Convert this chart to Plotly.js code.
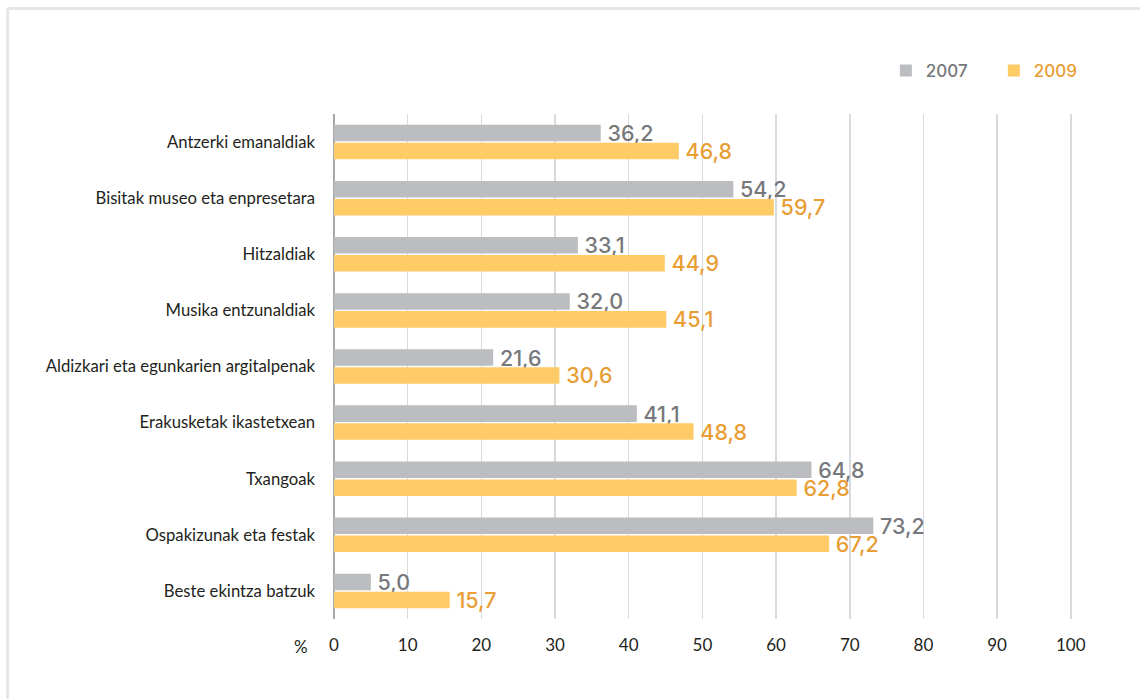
<!DOCTYPE html>
<html>
<head>
<meta charset="utf-8">
<script src="https://cdn.plot.ly/plotly-3.0.1.min.js"></script>
<style>html,body{margin:0;padding:0;background:#fff;}#chart{width:1140px;height:699px;}</style>
</head>
<body>
<div id="chart"></div>
<script>
var categories = [
  "Antzerki emanaldiak",
  "Bisitak museo eta enpresetara",
  "Hitzaldiak",
  "Musika entzunaldiak",
  "Aldizkari eta egunkarien argitalpenak",
  "Erakusketak ikastetxean",
  "Txangoak",
  "Ospakizunak eta festak",
  "Beste ekintza batzuk"
];
var values2007 = [36.2, 54.2, 33.1, 32.0, 21.6, 41.1, 64.8, 73.2, 5.0];
var values2009 = [46.8, 59.7, 44.9, 45.1, 30.6, 48.8, 62.8, 67.2, 15.7];
var seriesNames = ["2007", "2009"];
var tickValues = [0, 10, 20, 30, 40, 50, 60, 70, 80, 90, 100];

var grayBar = "#bcbdc0", grayText = "#77787b";
var yellowBar = "#fecb67", yellowText = "#e89e34";

var xMax = 100.3;
var L = 334, T = 114, B = 80;
var W = 1140, H = 699;
var pw = (1071 - 334) * xMax / 100;
var R = W - L - pw;
var ph = H - T - B;
function px(x){ return (x - L) / pw; }
function py(y){ return (H - B - y) / ph; }

var axisFont = "Lato, Liberation Sans, Arial, sans-serif";
var valueFont = "Inter, Roboto, Liberation Sans, Arial, sans-serif";

var traces = [
  {
    type: "bar", orientation: "h",
    y: categories, x: values2007,
    name: '<span style="color:' + grayText + '">' + seriesNames[0] + '</span>',
    marker: {color: grayBar},
    texttemplate: "\u2009%{x:.1f}", textposition: "outside", constraintext: "none",
    outsidetextfont: {family: valueFont, size: 21.5, weight: 500, color: grayText},
    cliponaxis: false, hoverinfo: "x+y"
  },
  {
    type: "bar", orientation: "h",
    y: categories, x: values2009,
    name: '<span style="color:' + yellowText + '">' + seriesNames[1] + '</span>',
    marker: {color: yellowBar},
    texttemplate: "\u2009%{x:.1f}", textposition: "outside", constraintext: "none",
    outsidetextfont: {family: valueFont, size: 21.5, weight: 500, color: yellowText},
    cliponaxis: false, hoverinfo: "x+y"
  }
];

var layout = {
  width: W, height: H,
  margin: {l: L, r: R, t: T, b: B, pad: 0, autoexpand: false},
  paper_bgcolor: "#ffffff", plot_bgcolor: "#ffffff",
  separators: ",.",
  barmode: "group",
  bargap: 0.36, bargroupgap: 0.08,
  font: {family: axisFont, color: "#231f20", size: 16},
  xaxis: {
    range: [0, xMax], tickvals: tickValues, ticktext: tickValues.map(String),
    showgrid: true, gridcolor: "#d9dadb", gridwidth: 1.5,
    zeroline: true, zerolinecolor: "#a7a9ac", zerolinewidth: 1.5,
    showline: false, ticks: "", ticklabelstandoff: 14,
    tickfont: {family: axisFont, size: 17, color: "#231f20"},
    fixedrange: true
  },
  yaxis: {
    autorange: "reversed", showgrid: false, zeroline: false, showline: false,
    ticks: "", ticklabelstandoff: 18,
    tickfont: {family: axisFont, size: 16.7, color: "#231f20"},
    fixedrange: true
  },
  legend: {
    orientation: "h", x: px(886), y: py(71), xanchor: "left", yanchor: "middle",
    font: {family: valueFont, size: 17, weight: 500},
    itemwidth: 30, entrywidth: 63, entrywidthmode: "pixels",
    traceorder: "normal", bgcolor: "rgba(0,0,0,0)"
  },
  annotations: [
    {xref: "paper", yref: "paper", x: px(310), y: py(646), xanchor: "right", yanchor: "middle",
     text: "%", showarrow: false,
     font: {family: axisFont, size: 17, color: "#231f20"}}
  ],
  shapes: [
    {type: "line", xref: "paper", yref: "paper", x0: px(7.5), x1: px(1160), y0: py(8.5), y1: py(8.5),
     line: {color: "#e6e7e8", width: 3}, layer: "below"},
    {type: "line", xref: "paper", yref: "paper", x0: px(7.5), x1: px(7.5), y0: py(8.5), y1: py(720),
     line: {color: "#e6e7e8", width: 3}, layer: "below"}
  ]
};

Plotly.newPlot("chart", traces, layout, {displayModeBar: false, staticPlot: true});
</script>
</body>
</html>
